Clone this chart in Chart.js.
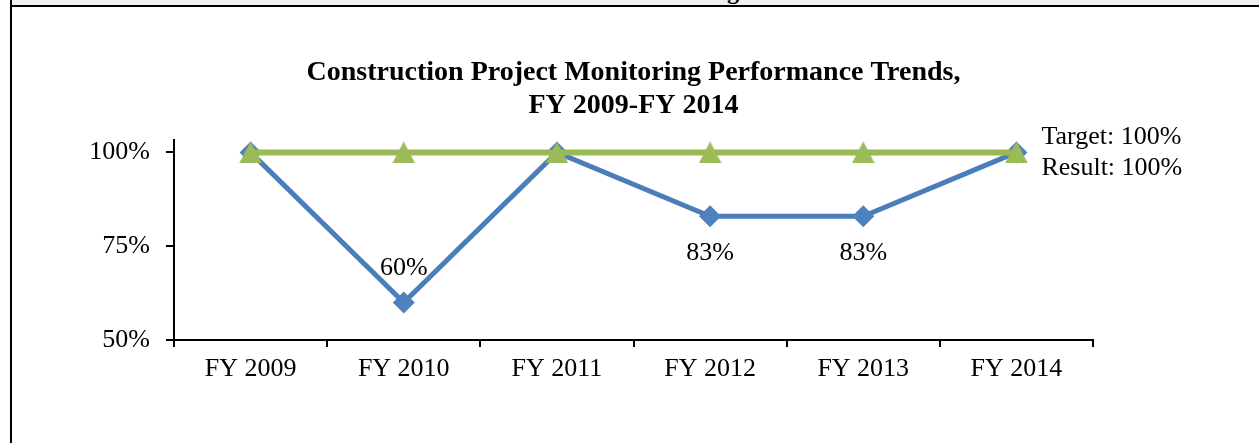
<!DOCTYPE html>
<html>
<head>
<meta charset="utf-8">
<script src="https://cdn.jsdelivr.net/npm/chart.js@4"></script>
<style>
  html, body { margin: 0; padding: 0; background: #fff; }
  #wrap { position: relative; width: 1259px; height: 443px; overflow: hidden; }
  #myChart { position: absolute; left: 0; top: 0; }
  #strip { position: absolute; left: 12px; top: 0; width: 1247px; height: 5px; background: #f0f0f0; overflow: hidden; }
  #strip span { position: absolute; left: 715px; top: -21px; font: bold 24px/24px "Liberation Serif", serif; color: #000; }
  #topLine { position: absolute; left: 10px; top: 5px; width: 1249px; height: 2px; background: #000; }
  #leftLine { position: absolute; left: 10px; top: 0; width: 2px; height: 443px; background: #000; }
</style>
</head>
<body>
<div id="wrap">
  <canvas id="myChart" width="1259" height="443"></canvas>
  <div id="strip"><span>g</span></div>
  <div id="topLine"></div>
  <div id="leftLine"></div>
</div>
<script>
// Chart data
const years = ['FY 2009', 'FY 2010', 'FY 2011', 'FY 2012', 'FY 2013', 'FY 2014'];
const resultValues = [100, 60, 100, 83, 83, 100];
const targetValues = [100, 100, 100, 100, 100, 100];
const yTickValues = [50, 75, 100];
const chartTitle = ['Construction Project Monitoring Performance Trends,', 'FY 2009-FY 2014'];

const serif = '"Liberation Serif", "Times New Roman", serif';

// Triangle marker, centred on the point like the Excel one
const tri = document.createElement('canvas');
tri.width = 23;
tri.height = 22;
const tctx = tri.getContext('2d');
tctx.fillStyle = '#9bbb59';
tctx.beginPath();
tctx.moveTo(11.5, 0);
tctx.lineTo(23, 22);
tctx.lineTo(0, 22);
tctx.closePath();
tctx.fill();

// Draws the value labels next to the points
const pointLabels = {
    id: 'pointLabels',
    afterDatasetsDraw(chart) {
        const ctx = chart.ctx;
        const target = chart.getDatasetMeta(0).data;
        const result = chart.getDatasetMeta(1).data;
        ctx.save();
        ctx.font = '26px ' + serif;
        ctx.fillStyle = '#000';
        ctx.textBaseline = 'middle';
        ctx.textAlign = 'center';
        // dips get a label: above for the deep one, below for the others
        resultValues.forEach((v, i) => {
            if (v >= 100) return;
            const p = result[i];
            const dy = v < 75 ? -34 : 37;
            ctx.fillText(v + '%', p.x, p.y + dy);
        });
        // last point: target and result side labels
        const last = years.length - 1;
        ctx.textAlign = 'left';
        ctx.fillText('Target: ' + targetValues[last] + '%', target[last].x + 25, target[last].y - 15);
        ctx.fillText('Result: ' + resultValues[last] + '%', result[last].x + 25, result[last].y + 16);
        ctx.restore();
    }
};

const data = {
    labels: years,
    datasets: [{
        label: 'Target',
        data: targetValues,
        borderColor: '#98b954',
        backgroundColor: '#9bbb59',
        borderWidth: 6,
        pointStyle: tri,
        pointRadius: 12,
        pointBorderWidth: 0,
        clip: false
    }, {
        label: 'Result',
        data: resultValues,
        borderColor: '#4a7ebb',
        backgroundColor: '#4f81bd',
        borderWidth: 5,
        pointStyle: 'rectRot',
        pointRadius: 11,
        pointBorderWidth: 0,
        pointBackgroundColor: '#4f81bd',
        clip: false
    }]
};

const config = {
    type: 'line',
    data: data,
    options: {
        responsive: false,
        animation: false,
        devicePixelRatio: 1,
        layout: { padding: { top: 57, left: 0, right: 166, bottom: 0 } },
        plugins: {
            legend: { display: false },
            tooltip: { enabled: false },
            title: {
                display: true,
                text: chartTitle,
                fullSize: false,
                color: '#000',
                font: { family: serif, size: 28, weight: 'bold', lineHeight: 1.15 },
                padding: { top: 0, bottom: 19 }
            }
        },
        scales: {
            x: {
                offset: true,
                grid: { offset: true, drawOnChartArea: false, tickLength: 7, color: '#000', lineWidth: 2 },
                border: { color: '#000', width: 2 },
                ticks: { color: '#000', font: { family: serif, size: 26 }, padding: 7, maxRotation: 0 },
                afterFit: s => { s.height = 103; }
            },
            y: {
                min: 50,
                max: 103.2,
                afterBuildTicks: s => { s.ticks = yTickValues.map(v => ({ value: v })); },
                grid: { drawOnChartArea: false, tickLength: 8, color: '#000', lineWidth: 2 },
                border: { color: '#000', width: 2 },
                ticks: { color: '#000', font: { family: serif, size: 26 }, padding: 16, callback: v => v + '%' },
                afterFit: s => { s.width = 174; }
            }
        }
    },
    plugins: [pointLabels]
};

const myChart = new Chart(document.getElementById('myChart'), config);
</script>
</body>
</html>
